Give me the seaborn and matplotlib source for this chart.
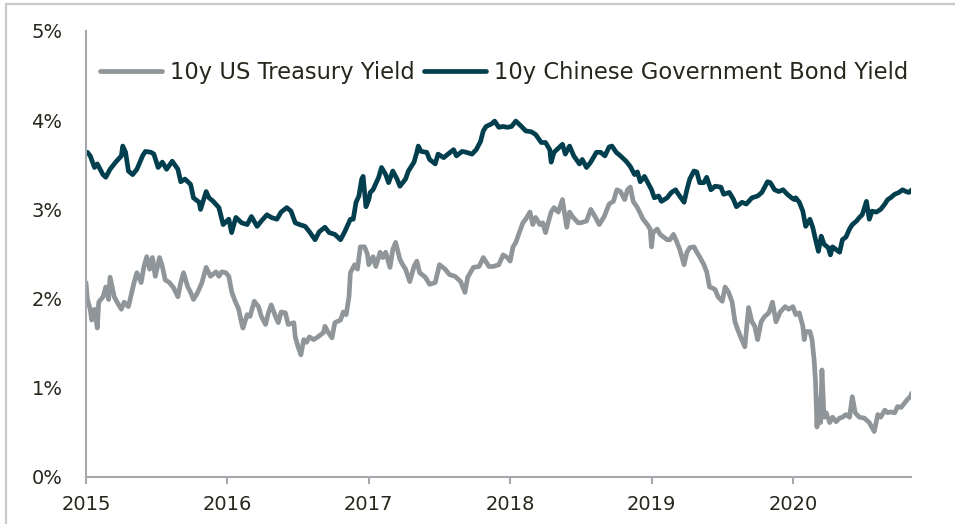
import matplotlib
matplotlib.use("Agg")
import matplotlib.pyplot as plt
import matplotlib.patches as mpatches
import seaborn as sns
import pandas as pd

# ---------------- data (decimal year, yield in %) ----------------
us_t = [2015.00, 2015.01, 2015.03, 2015.04, 2015.06, 2015.08, 2015.09, 2015.12, 2015.14, 2015.16,
        2015.17, 2015.20, 2015.22, 2015.25, 2015.27, 2015.30, 2015.34, 2015.36, 2015.39, 2015.41,
        2015.43, 2015.45, 2015.47, 2015.49, 2015.52, 2015.54, 2015.56, 2015.59, 2015.62, 2015.65,
        2015.67, 2015.69, 2015.72, 2015.74, 2015.76, 2015.79, 2015.82, 2015.85, 2015.88, 2015.92,
        2015.94, 2015.96, 2015.99,
        2016.01, 2016.03, 2016.05, 2016.08, 2016.10, 2016.11, 2016.14, 2016.16, 2016.19, 2016.22,
        2016.24, 2016.27, 2016.29, 2016.31, 2016.34, 2016.36, 2016.38, 2016.41, 2016.43, 2016.47,
        2016.48, 2016.50, 2016.52, 2016.54, 2016.56, 2016.58, 2016.61, 2016.64, 2016.68, 2016.69,
        2016.71, 2016.74, 2016.76, 2016.80, 2016.82, 2016.84, 2016.86, 2016.87, 2016.90, 2016.92,
        2016.94, 2016.97, 2016.99,
        2017.00, 2017.03, 2017.05, 2017.08, 2017.10, 2017.12, 2017.15, 2017.17, 2017.19, 2017.22,
        2017.24, 2017.26, 2017.29, 2017.32, 2017.34, 2017.36, 2017.40, 2017.43, 2017.47, 2017.50,
        2017.54, 2017.57, 2017.61, 2017.65, 2017.68, 2017.70, 2017.74, 2017.78, 2017.81, 2017.85,
        2017.88, 2017.92, 2017.95, 2017.98,
        2018.00, 2018.02, 2018.04, 2018.06, 2018.09, 2018.11, 2018.14, 2018.16, 2018.18, 2018.21,
        2018.23, 2018.25, 2018.265, 2018.29, 2018.31, 2018.34, 2018.37, 2018.38, 2018.40, 2018.42,
        2018.44, 2018.48, 2018.50, 2018.54, 2018.57, 2018.60, 2018.63, 2018.665, 2018.70, 2018.73,
        2018.755, 2018.78, 2018.81, 2018.83, 2018.85, 2018.87, 2018.90, 2018.94, 2018.97, 2018.99,
        2019.00, 2019.01, 2019.04, 2019.06, 2019.085, 2019.11, 2019.13, 2019.155, 2019.18, 2019.20,
        2019.23, 2019.25, 2019.27, 2019.30, 2019.32, 2019.34, 2019.37, 2019.39, 2019.41, 2019.43,
        2019.45, 2019.47, 2019.50, 2019.52, 2019.545, 2019.57, 2019.59, 2019.61, 2019.63, 2019.66,
        2019.686, 2019.71, 2019.73, 2019.75, 2019.775, 2019.80, 2019.83, 2019.855, 2019.88, 2019.91,
        2019.945, 2019.97,
        2020.00, 2020.02, 2020.045, 2020.07, 2020.08, 2020.09, 2020.12, 2020.135, 2020.15, 2020.16,
        2020.17, 2020.18, 2020.195, 2020.205, 2020.22, 2020.235, 2020.26, 2020.28, 2020.305, 2020.33,
        2020.35, 2020.375, 2020.40, 2020.42, 2020.44, 2020.47, 2020.505, 2020.54, 2020.575, 2020.60,
        2020.62, 2020.65, 2020.67, 2020.69, 2020.72, 2020.74, 2020.765, 2020.79, 2020.81, 2020.83,
        2020.84]
us_v = [2.18, 1.99, 1.88, 1.76, 1.88, 1.67, 1.96, 2.02, 2.13, 1.99,
        2.24, 2.02, 1.96, 1.88, 1.96, 1.91, 2.18, 2.29, 2.18, 2.36,
        2.47, 2.33, 2.46, 2.25, 2.46, 2.36, 2.21, 2.18, 2.12, 2.02,
        2.18, 2.29, 2.13, 2.07, 1.99, 2.07, 2.18, 2.35, 2.25, 2.30,
        2.25, 2.30, 2.29,
        2.25, 2.08, 1.99, 1.88, 1.73, 1.67, 1.82, 1.80, 1.97, 1.91,
        1.80, 1.71, 1.84, 1.93, 1.80, 1.73, 1.85, 1.84, 1.71, 1.73,
        1.57, 1.46, 1.37, 1.54, 1.51, 1.57, 1.54, 1.57, 1.62, 1.69,
        1.63, 1.56, 1.73, 1.76, 1.85, 1.82, 2.02, 2.29, 2.38, 2.33,
        2.58, 2.58, 2.50,
        2.38, 2.47, 2.36, 2.52, 2.46, 2.52, 2.35, 2.55, 2.63, 2.44,
        2.38, 2.33, 2.19, 2.36, 2.42, 2.29, 2.24, 2.16, 2.18, 2.38,
        2.33, 2.27, 2.25, 2.19, 2.07, 2.24, 2.35, 2.36, 2.46, 2.36,
        2.36, 2.38, 2.49, 2.46,
        2.42, 2.58, 2.63, 2.72, 2.85, 2.89, 2.97, 2.83, 2.91, 2.83,
        2.85, 2.74, 2.83, 2.97, 3.02, 2.97, 3.11, 3.00, 2.80, 2.97,
        2.92, 2.85, 2.85, 2.87, 3.00, 2.92, 2.83, 2.92, 3.06, 3.09,
        3.22, 3.20, 3.11, 3.22, 3.25, 3.09, 3.02, 2.89, 2.83, 2.78,
        2.58, 2.74, 2.78, 2.72, 2.69, 2.66, 2.66, 2.72, 2.63, 2.55,
        2.38, 2.52, 2.57, 2.58, 2.52, 2.47, 2.38, 2.30, 2.13, 2.12,
        2.10, 2.02, 1.97, 2.13, 2.07, 1.96, 1.74, 1.65, 1.57, 1.46,
        1.90, 1.74, 1.69, 1.54, 1.74, 1.80, 1.84, 1.96, 1.74, 1.85,
        1.91, 1.88,
        1.91, 1.82, 1.84, 1.69, 1.54, 1.63, 1.63, 1.54, 1.31, 1.06,
        0.56, 0.87, 0.61, 1.20, 0.67, 0.72, 0.61, 0.67, 0.62, 0.66,
        0.67, 0.70, 0.67, 0.90, 0.72, 0.67, 0.66, 0.61, 0.51, 0.70,
        0.67, 0.75, 0.72, 0.73, 0.72, 0.79, 0.78, 0.83, 0.87, 0.90,
        0.94]

cn_t = [2015.01, 2015.03, 2015.06, 2015.08, 2015.12, 2015.14, 2015.17, 2015.21, 2015.25, 2015.26,
        2015.28, 2015.30, 2015.33, 2015.36, 2015.40, 2015.42, 2015.46, 2015.48, 2015.51, 2015.54,
        2015.57, 2015.61, 2015.65, 2015.67, 2015.70, 2015.74, 2015.76, 2015.80, 2015.81, 2015.85,
        2015.87, 2015.90, 2015.94, 2015.97,
        2016.01, 2016.03, 2016.06, 2016.10, 2016.14, 2016.17, 2016.21, 2016.24, 2016.28, 2016.31,
        2016.35, 2016.38, 2016.42, 2016.45, 2016.48, 2016.51, 2016.55, 2016.58, 2016.62, 2016.65,
        2016.69, 2016.72, 2016.76, 2016.80, 2016.83, 2016.87, 2016.89, 2016.91, 2016.93, 2016.95,
        2016.96, 2016.98,
        2017.00, 2017.01, 2017.03, 2017.07, 2017.09, 2017.12, 2017.14, 2017.17, 2017.20, 2017.22,
        2017.26, 2017.28, 2017.32, 2017.34, 2017.35, 2017.37, 2017.41, 2017.43, 2017.47, 2017.49,
        2017.53, 2017.56, 2017.60, 2017.62, 2017.66, 2017.69, 2017.73, 2017.76, 2017.79, 2017.81,
        2017.83, 2017.87, 2017.89, 2017.92, 2017.95, 2017.98,
        2018.01, 2018.04, 2018.08, 2018.11, 2018.15, 2018.18, 2018.22, 2018.25, 2018.28, 2018.29,
        2018.31, 2018.35, 2018.37, 2018.39, 2018.42, 2018.45, 2018.49, 2018.51, 2018.54, 2018.57,
        2018.61, 2018.64, 2018.67, 2018.70, 2018.72, 2018.75, 2018.78, 2018.82, 2018.85, 2018.88,
        2018.90, 2018.92, 2018.95, 2018.98,
        2019.00, 2019.02, 2019.05, 2019.07, 2019.11, 2019.14, 2019.17, 2019.19, 2019.23, 2019.25,
        2019.27, 2019.30, 2019.32, 2019.34, 2019.37, 2019.39, 2019.42, 2019.45, 2019.49, 2019.51,
        2019.55, 2019.58, 2019.60, 2019.64, 2019.67, 2019.71, 2019.75, 2019.78, 2019.82, 2019.84,
        2019.87, 2019.90, 2019.93, 2019.96, 2019.99,
        2020.01, 2020.02, 2020.045, 2020.07, 2020.09, 2020.12, 2020.14, 2020.16, 2020.18, 2020.20,
        2020.22, 2020.25, 2020.265, 2020.28, 2020.305, 2020.33, 2020.35, 2020.375, 2020.40, 2020.42,
        2020.45, 2020.47, 2020.49, 2020.52, 2020.54, 2020.56, 2020.59, 2020.62, 2020.65, 2020.67,
        2020.69, 2020.72, 2020.75, 2020.775, 2020.80, 2020.82, 2020.84]
cn_v = [3.64, 3.60, 3.47, 3.51, 3.39, 3.36, 3.45, 3.53, 3.60, 3.71,
        3.64, 3.43, 3.39, 3.45, 3.60, 3.65, 3.64, 3.62, 3.47, 3.53,
        3.45, 3.54, 3.45, 3.31, 3.34, 3.28, 3.13, 3.08, 3.00, 3.20,
        3.13, 3.09, 3.02, 2.83,
        2.89, 2.74, 2.91, 2.85, 2.83, 2.92, 2.81, 2.87, 2.94, 2.91,
        2.89, 2.97, 3.02, 2.98, 2.85, 2.83, 2.81, 2.75, 2.66, 2.75,
        2.80, 2.74, 2.72, 2.66, 2.75, 2.89, 2.89, 3.08, 3.15, 3.34,
        3.37, 3.03,
        3.11, 3.19, 3.22, 3.36, 3.47, 3.39, 3.30, 3.43, 3.34, 3.26,
        3.34, 3.43, 3.53, 3.64, 3.71, 3.65, 3.64, 3.56, 3.51, 3.62,
        3.58, 3.62, 3.67, 3.60, 3.65, 3.64, 3.62, 3.67, 3.76, 3.88,
        3.93, 3.96, 3.99, 3.92, 3.93, 3.92,
        3.93, 3.99, 3.93, 3.88, 3.87, 3.84, 3.75, 3.75, 3.67, 3.53,
        3.64, 3.70, 3.73, 3.62, 3.71, 3.60, 3.51, 3.56, 3.47, 3.53,
        3.64, 3.64, 3.60, 3.70, 3.71, 3.64, 3.60, 3.54, 3.48, 3.39,
        3.42, 3.31, 3.37, 3.28,
        3.22, 3.13, 3.15, 3.09, 3.13, 3.19, 3.22, 3.17, 3.08, 3.22,
        3.34, 3.43, 3.42, 3.30, 3.30, 3.36, 3.22, 3.26, 3.25, 3.17,
        3.19, 3.11, 3.03, 3.08, 3.06, 3.13, 3.15, 3.19, 3.31, 3.30,
        3.22, 3.20, 3.22, 3.17, 3.13,
        3.11, 3.13, 3.08, 2.98, 2.81, 2.89, 2.80, 2.66, 2.53, 2.70,
        2.61, 2.57, 2.49, 2.58, 2.55, 2.52, 2.66, 2.69, 2.78, 2.83,
        2.87, 2.91, 2.94, 3.09, 2.89, 2.98, 2.97, 3.00, 3.06, 3.11,
        3.13, 3.17, 3.19, 3.22, 3.20, 3.19, 3.22]

series_names = ["10y US Treasury Yield", "10y Chinese Government Bond Yield"]
series_colors = ["#8f9598", "#023f4e"]
year_ticks = [2015, 2016, 2017, 2018, 2019, 2020]
y_ticks = [0, 1, 2, 3, 4, 5]
y_tick_labels = ["0%", "1%", "2%", "3%", "4%", "5%"]

df = pd.concat([
    pd.DataFrame({"t": us_t, "v": us_v, "series": series_names[0]}),
    pd.DataFrame({"t": cn_t, "v": cn_v, "series": series_names[1]}),
], ignore_index=True)

# ---------------- plotting ----------------
sns.set_theme(style="white")
plt.rcParams["font.family"] = ["DejaVu Sans"]

fig = plt.figure(figsize=(9.55, 5.24), dpi=100)
ax = fig.add_axes([86 / 955, 47 / 524, (911 - 86) / 955, (477 - 31) / 524])

sns.lineplot(data=df, x="t", y="v", hue="series", hue_order=series_names,
             palette=dict(zip(series_names, series_colors)),
             estimator=None, sort=False, linewidth=3.4, ax=ax, legend=False)

ax.set_xlim(2015, 2020.835)
ax.set_ylim(0, 5)
ax.set_xticks(year_ticks)
ax.set_xticklabels([str(y) for y in year_ticks])
ax.set_yticks(y_ticks)
ax.set_yticklabels(y_tick_labels)
ax.set_xlabel("")
ax.set_ylabel("")

text_color = "#26261c"
spine_color = "#a5a9ad"
for s in ["top", "right"]:
    ax.spines[s].set_visible(False)
for s in ["left", "bottom"]:
    ax.spines[s].set_color(spine_color)
    ax.spines[s].set_linewidth(1.5)

ax.tick_params(axis="x", direction="out", length=5, width=1.5, color=spine_color,
               labelsize=14, labelcolor=text_color, pad=8, bottom=True)
ax.tick_params(axis="y", length=0, labelsize=14, labelcolor=text_color, pad=17, left=False)

handles = [plt.Line2D([], [], color=c, linewidth=3.4) for c in series_colors]
leg = fig.legend(handles, series_names, loc="center left",
                 bbox_to_anchor=(100 / 955, 1 - 72 / 524), ncol=2, frameon=False,
                 fontsize=16.3, handlelength=2.75, handletextpad=0.35,
                 columnspacing=0.4, borderpad=0, borderaxespad=0)
for t in leg.get_texts():
    t.set_color(text_color)

# outer light-gray frame
fig.patches.append(mpatches.Rectangle((6 / 955, -0.05), 1.1, 1 - 4 / 524 + 0.05,
                                      transform=fig.transFigure, fill=False,
                                      edgecolor="#c9c9c9", linewidth=1.6))

fig.savefig("out.png", dpi=100)
